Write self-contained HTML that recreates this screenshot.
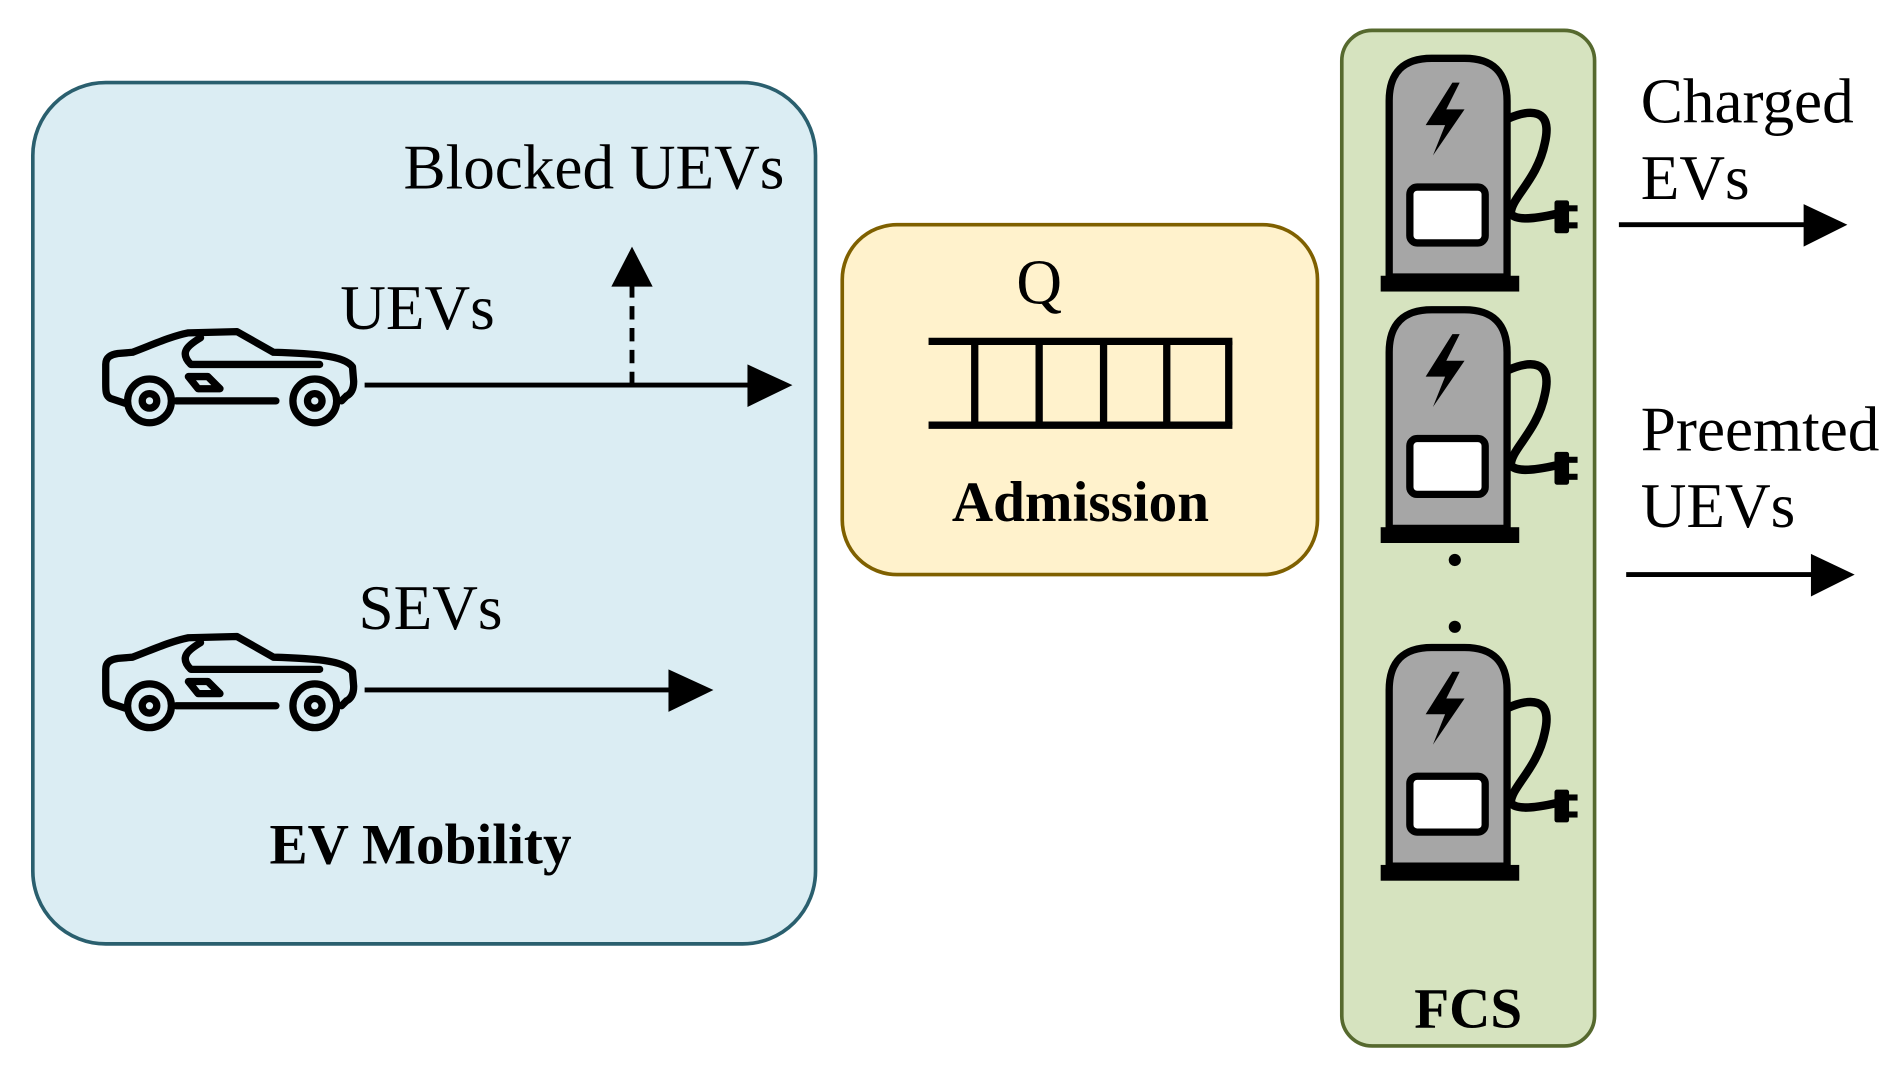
<!DOCTYPE html>
<html><head><meta charset="utf-8"><style>
html,body{margin:0;padding:0;background:#fff;}
svg{display:block;}
text{font-family:"Liberation Serif",serif;fill:#000;}
</style></head><body>
<svg width="1896" height="1069" viewBox="0 0 1560 880" preserveAspectRatio="none" xmlns="http://www.w3.org/2000/svg">
<defs>
<g id="car" fill="none" stroke="#000" stroke-width="6" stroke-linejoin="round" stroke-linecap="round">
  <path d="M18,60 L6,56 C2,54 2,50 2,44 L2,28 C2,22 6,20 12,19 L24,18 C40,12 55,5 70,2 L110,1 L140,18 C170,19 198,20 205,30 L206,42 C206,48 204,52 200,54 L196,58"/>
  <path d="M60,58 L142,58"/>
  <circle cx="38" cy="58" r="18"/><circle cx="38" cy="58" r="6"/>
  <circle cx="174" cy="58" r="18"/><circle cx="174" cy="58" r="6"/>
  <path d="M80,6 C70,12 62,18 72,28 L178,28"/>
  <path d="M70,38 L86,38 L96,48 L78,48 Z"/>
</g>
<g id="chg">
  <path d="M0,180 L0,35 Q0,0 35,0 L62,0 Q97,0 97,35 L97,180 Z" fill="#a6a6a6" stroke="#000" stroke-width="6"/>
  <rect x="-7" y="179" width="114" height="13" fill="#000"/>
  <rect x="17" y="106" width="62" height="46" rx="6" fill="#fff" stroke="#000" stroke-width="6"/>
  <path d="M52,20 L30,55 L46,55 L36,80 L62,42 L47,42 L58,20 Z" fill="#000"/>
  <path d="M97,50 C115,42 135,40 128,70 C122,100 100,115 100,128 C105,134 120,132 138,128" fill="none" stroke="#000" stroke-width="7"/>
  <rect x="136" y="117" width="12" height="27" rx="2" fill="#000"/>
  <rect x="146" y="121" width="9" height="5" fill="#000"/><rect x="146" y="135" width="9" height="5" fill="#000"/>
</g>
</defs>

<rect x="27" y="68" width="644" height="709" rx="60" fill="#dbedf3" stroke="#2a5f6e" stroke-width="3"/>
<text x="332" y="155" font-size="52">Blocked UEVs</text>
<text x="280" y="271" font-size="52">UEVs</text>
<use href="#car" x="85" y="272"/>
<line x1="300" y1="317" x2="620" y2="317" stroke="#000" stroke-width="4"/>
<polygon points="615,300 652,317 615,335" fill="#000"/>
<line x1="520" y1="317" x2="520" y2="232" stroke="#000" stroke-width="4" stroke-dasharray="11,7"/>
<polygon points="503,236 520,203 537,236" fill="#000"/>
<text x="295" y="518" font-size="52">SEVs</text>
<use href="#car" x="85" y="523"/>
<line x1="300" y1="568" x2="555" y2="568" stroke="#000" stroke-width="4"/>
<polygon points="550,551 587,568 550,586" fill="#000"/>
<text x="346" y="711" font-size="47" font-weight="bold" text-anchor="middle">EV Mobility</text>

<rect x="693" y="185" width="391" height="288" rx="45" fill="#fff2cc" stroke="#7f6000" stroke-width="3"/>
<text x="855" y="250" font-size="52" text-anchor="middle">Q</text>
<g stroke="#000" stroke-width="6" fill="none">
<line x1="764" y1="281" x2="1014" y2="281"/><line x1="764" y1="350" x2="1014" y2="350"/>
<line x1="802" y1="281" x2="802" y2="350"/><line x1="855" y1="281" x2="855" y2="350"/>
<line x1="908" y1="281" x2="908" y2="350"/><line x1="960" y1="281" x2="960" y2="350"/>
<line x1="1011" y1="281" x2="1011" y2="350"/>
</g>
<text x="889" y="429" font-size="47" font-weight="bold" text-anchor="middle">Admission</text>

<rect x="1104" y="25" width="208" height="836" rx="25" fill="#d6e3bf" stroke="#56692e" stroke-width="3"/>
<use href="#chg" x="1143" y="48"/>
<use href="#chg" x="1143" y="255"/>
<use href="#chg" x="1143" y="533"/>
<circle cx="1197" cy="461" r="5" fill="#000"/>
<circle cx="1197" cy="516" r="5" fill="#000"/>
<text x="1208" y="846" font-size="47" font-weight="bold" text-anchor="middle">FCS</text>

<text x="1350" y="101" font-size="52">Charged</text>
<text x="1350" y="164" font-size="52">EVs</text>
<line x1="1332" y1="185" x2="1490" y2="185" stroke="#000" stroke-width="4"/>
<polygon points="1484,168 1520,185 1484,203" fill="#000"/>
<text x="1350" y="371" font-size="52">Preemted</text>
<text x="1350" y="434" font-size="52">UEVs</text>
<line x1="1338" y1="473" x2="1496" y2="473" stroke="#000" stroke-width="4"/>
<polygon points="1490,456 1526,473 1490,491" fill="#000"/>
</svg>
</body></html>
